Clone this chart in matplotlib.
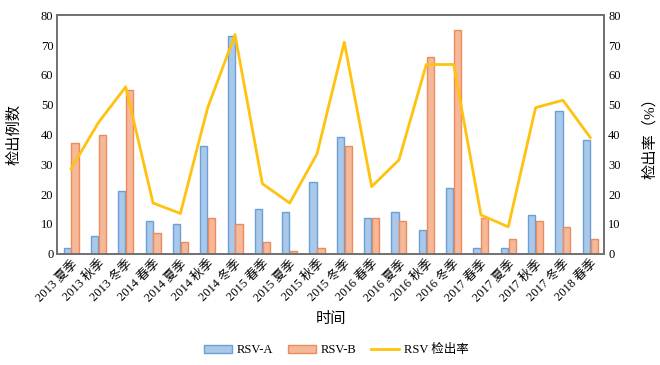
import numpy as np
import matplotlib
matplotlib.use("Agg")
import matplotlib.pyplot as plt

plt.rcParams['font.family'] = ['Liberation Serif', 'Noto Sans CJK SC']

seasons = ['2013 夏季', '2013 秋季', '2013 冬季', '2014 春季', '2014 夏季',
           '2014 秋季', '2014 冬季', '2015 春季', '2015 夏季', '2015 秋季',
           '2015 冬季', '2016 春季', '2016 夏季', '2016 秋季', '2016 冬季',
           '2017 春季', '2017 夏季', '2017 秋季', '2017 冬季', '2018 春季']
rsv_a = [2, 6, 21, 11, 10, 36, 73, 15, 14, 24, 39, 12, 14, 8, 22, 2, 2, 13, 48, 38]
rsv_b = [37, 40, 55, 7, 4, 12, 10, 4, 1, 2, 36, 12, 11, 66, 75, 12, 5, 11, 9, 5]
rate = [28.5, 44, 56, 17, 13.5, 49, 73.5, 23.5, 17, 33.5, 71, 22.5, 31.5,
        63.5, 63.5, 13, 9, 49, 51.5, 39]

x = np.arange(len(seasons))
w = 0.26

fig, ax = plt.subplots(figsize=(6.6, 3.65), dpi=100)
fig.subplots_adjust(left=0.087, right=0.915, top=0.958, bottom=0.305)

ba = ax.bar(x - 0.145, rsv_a, w, color='#a9c8ea', edgecolor='#6a9fd8', linewidth=1, label='RSV-A')
bb = ax.bar(x + 0.145, rsv_b, w, color='#f5b898', edgecolor='#ee8a5c', linewidth=1, label='RSV-B')
ax.set_ylim(0, 80)
ax.set_xlim(-0.5, len(seasons) - 0.5)
ax.set_yticks(range(0, 81, 10))
ax.set_xticks(x)
ax.set_xticklabels(seasons, rotation=45, ha='right', rotation_mode='anchor')
ax.set_ylabel('检出例数', fontsize=11, labelpad=14)
ax.set_xlabel('时间', fontsize=11, labelpad=6)

ax2 = ax.twinx()
ln, = ax2.plot(x, rate, color='#ffc20e', linewidth=2, label='RSV 检出率')
ax2.set_ylim(0, 80)
ax2.set_yticks(range(0, 81, 10))
ax2.set_ylabel('检出率（%）', fontsize=11, rotation=90, labelpad=16)

for a in (ax, ax2):
    a.tick_params(length=0, labelsize=9, pad=3)
    for s in a.spines.values():
        s.set_color('#707070')
        s.set_linewidth(1.2)

fig.legend([ba, bb, ln], ['RSV-A', 'RSV-B', 'RSV 检出率'], loc='center',
           bbox_to_anchor=(0.51, 0.04), ncol=3, frameon=False, fontsize=9,
           handlelength=2.2, handletextpad=0.4, columnspacing=1.2)

fig.savefig('out.png', dpi=100)
